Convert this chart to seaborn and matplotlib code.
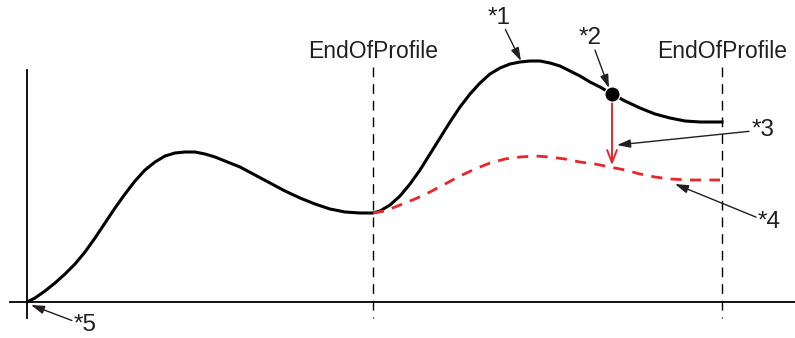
import numpy as np
import pandas as pd
import seaborn as sns
import matplotlib.pyplot as plt

# 그림 좌표 (픽셀 기준, y는 아래로 증가)
profile_x = [27, 35, 45, 55, 65, 75, 85, 95, 105, 115, 125, 135, 145, 155, 165, 175, 185, 195,
             205, 215, 225, 240, 255, 270, 285, 300, 315, 330, 345, 360, 373,
             380, 390, 400, 410, 420, 430, 440, 450, 460, 470, 480, 490, 500, 510, 520, 530,
             540, 550, 560, 570, 580, 590, 600, 612, 625, 640, 655, 670, 685, 700, 722]
profile_y = [302, 298, 291, 283, 274, 264, 252, 238, 223, 208, 194, 181, 170, 162, 156, 153, 152, 152,
             154, 157, 161, 167, 175, 183, 191, 198, 204, 209, 212, 213, 213,
             211, 205, 196, 184, 170, 154, 138, 122, 107, 94, 83, 74, 68, 64, 62, 61,
             61, 63, 66, 71, 76, 82, 87, 94, 101, 108, 114, 118, 121, 122, 122]

corrected_x = [373, 385, 400, 415, 430, 445, 460, 475, 490, 505, 520, 535, 550, 565, 580,
               595, 610, 625, 640, 655, 670, 690, 720]
corrected_y = [213, 211, 205, 199, 192, 184, 176, 169, 163, 159, 157, 156, 157, 159, 162,
               164, 167, 170, 174, 177, 179, 180, 180]

end_x = [373, 722]
end_labels = ["EndOfProfile", "EndOfProfile"]

dot = (612, 94)
drop_end = (612, 168)

# 주석: (텍스트, 텍스트 위치, 화살표 끝)
notes = [("*1", (499, 18), (521, 61)),
         ("*2", (590, 38), (609, 88)),
         ("*3", (763, 130), (617, 145)),
         ("*4", (769, 222), (675, 184)),
         ("*5", (85, 325), (31, 305))]

plt.rcParams['font.family'] = ['Liberation Sans', 'DejaVu Sans']
fig = plt.figure(figsize=(7.95, 3.38), dpi=100)
ax = fig.add_axes([0, 0, 1, 1])
ax.set_xlim(0, 795)
ax.set_ylim(338, 0)
ax.axis('off')

# 축
ax.plot([10, 795], [302, 302], color='black', lw=1.3)
ax.plot([27, 27], [70, 318], color='black', lw=1.3)

# EndOfProfile 점선
for x, lab in zip(end_x, end_labels):
    ax.plot([x, x], [67, 318], color='black', lw=1.0, dashes=(7, 5))
    ax.text(x, 58, lab, ha='center', va='baseline', fontsize=16.5, color='#231f20')

df1 = pd.DataFrame({'x': profile_x, 'y': profile_y})
df2 = pd.DataFrame({'x': corrected_x, 'y': corrected_y})
sns.lineplot(data=df1, x='x', y='y', sort=False, color='black', lw=2.2, ax=ax,
             solid_joinstyle='round')
sns.lineplot(data=df2, x='x', y='y', sort=False, color='#e8262a', lw=2.0, ax=ax,
             dashes=False, linestyle=(0, (4, 3)))
ax.set_xlabel('')
ax.set_ylabel('')

sns.scatterplot(x=[dot[0]], y=[dot[1]], s=120, color='black', ax=ax, zorder=5)

ax.annotate('', xy=drop_end, xytext=(dot[0], dot[1] + 5),
            arrowprops=dict(arrowstyle='->,head_length=0.9,head_width=0.35', color='#e8262a', lw=1.4))

for txt, tpos, apos in notes:
    ax.text(tpos[0], tpos[1], txt, ha='center', va='center', fontsize=17.5, color='#231f20')
    # 화살표 시작점은 텍스트 근처
    dx = apos[0] - tpos[0]
    dy = apos[1] - tpos[1]
    d = np.hypot(dx, dy)
    start = (tpos[0] + dx / d * 14, tpos[1] + dy / d * 13)
    ax.annotate('', xy=apos, xytext=start,
                arrowprops=dict(arrowstyle='-|>,head_length=0.8,head_width=0.25',
                                color='#231f20', lw=1.0, shrinkA=0, shrinkB=0))

fig.savefig('out.png', dpi=100)
